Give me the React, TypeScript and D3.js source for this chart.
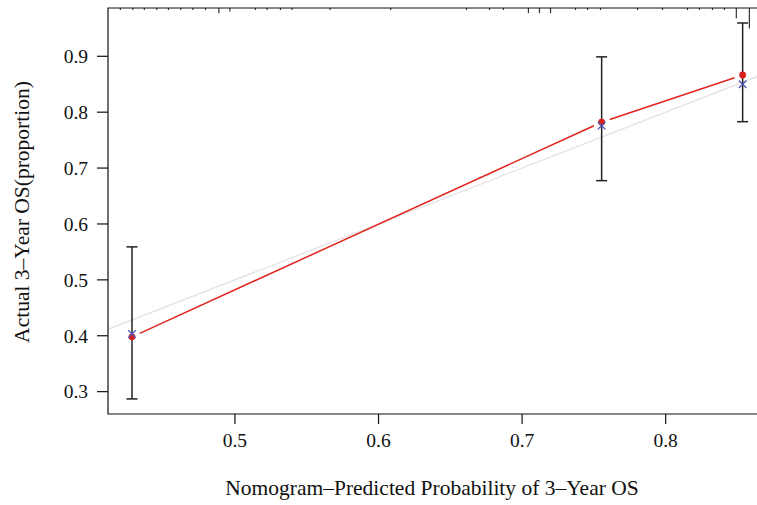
import React from "react";
import * as d3 from "d3";

// Calibration groups
const predicted = [0.4283, 0.7554, 0.8536];
const observed = [0.398, 0.782, 0.8665];
const corrected = [0.403, 0.776, 0.850];
const lowerCI = [0.287, 0.6775, 0.783];
const upperCI = [0.559, 0.899, 0.9596];

// Rug of predicted probabilities along the top (value, relative count)
const rugValues = [
  0.4202, 0.4289, 0.4369, 0.4456, 0.4537, 0.4623, 0.4707, 0.4795, 0.4888, 0.4965,
  0.5143, 0.5224, 0.5317, 0.5398, 0.5663, 0.6085, 0.6613, 0.6773, 0.6870, 0.7044,
  0.7121, 0.7198, 0.7372, 0.7456, 0.7546, 0.7804, 0.7978, 0.8152, 0.8235, 0.8326,
  0.8409, 0.8492, 0.8583,
];
const rugCounts = [
  1, 1, 1, 1, 1, 1, 1, 1, 3, 2,
  1, 1, 1, 1, 1, 1, 1, 1, 1, 3,
  3, 3, 1, 1, 1, 1, 1, 1, 1, 1,
  1, 6, 12,
];

const xTicks = [0.5, 0.6, 0.7, 0.8];
const yTicks = [0.3, 0.4, 0.5, 0.6, 0.7, 0.8, 0.9];

const xTitle = "Nomogram\u2013Predicted Probability of 3\u2013Year OS";
const yTitle = "Actual 3\u2013Year OS(proportion)";

const W = 757;
const H = 505;
const left = 108;
const top = 8;
const bottom = 414;

const FONT = "'Liberation Serif', 'DejaVu Serif', serif";

export default function App() {
  const x = d3.scaleLinear().domain([0.4116, 0.8636]).range([left, 757]);
  const y = d3.scaleLinear().domain([0.26, 0.9864]).range([bottom, top]);
  const rugH = d3.scaleLinear().domain([0, 12]).range([0, 20.5]);

  const right = x(0.875);

  // red line segments with gaps near points (type "b")
  const gap = 8.5;
  const segs: [number, number, number, number][] = [];
  for (let i = 0; i < predicted.length - 1; i++) {
    const x1 = x(predicted[i]), y1 = y(observed[i]);
    const x2 = x(predicted[i + 1]), y2 = y(observed[i + 1]);
    const len = Math.hypot(x2 - x1, y2 - y1);
    const ux = (x2 - x1) / len, uy = (y2 - y1) / len;
    segs.push([x1 + ux * gap, y1 + uy * gap, x2 - ux * gap, y2 - uy * gap]);
  }

  const d0 = 0.4116, d1 = 0.875;

  return (
    <svg
      width={W}
      height={H}
      style={{ position: "absolute", left: 0, top: 0, background: "#fff" }}
      fontFamily={FONT}
    >
      <rect x={0} y={0} width={W} height={H} fill="#fff" />
      {/* ideal line */}
      <line
        x1={x(d0)}
        y1={y(d0)}
        x2={x(d1)}
        y2={y(d1)}
        stroke="#e6e6e6"
        strokeWidth={1.5}
      />
      {/* red calibration line */}
      {segs.map((s, i) => (
        <line key={i} x1={s[0]} y1={s[1]} x2={s[2]} y2={s[3]} stroke="#e0261d" strokeWidth={1.5} />
      ))}
      {/* error bars */}
      {predicted.map((p, i) => (
        <g key={i} stroke="#222" strokeWidth={1.5}>
          <line x1={x(p)} x2={x(p)} y1={y(lowerCI[i])} y2={y(upperCI[i])} />
          <line x1={x(p) - 5.5} x2={x(p) + 5.5} y1={y(lowerCI[i])} y2={y(lowerCI[i])} />
          <line x1={x(p) - 5.5} x2={x(p) + 5.5} y1={y(upperCI[i])} y2={y(upperCI[i])} />
        </g>
      ))}
      {/* observed points */}
      {predicted.map((p, i) => (
        <circle key={i} cx={x(p)} cy={y(observed[i])} r={3.4} fill="#d81f1a" />
      ))}
      {/* bias-corrected X markers */}
      {predicted.map((p, i) => {
        const cx = x(p), cy = y(corrected[i]);
        const s = 3.8;
        return (
          <g key={i} stroke="#4f55b8" strokeWidth={1.3}>
            <line x1={cx - s} y1={cy - s} x2={cx + s} y2={cy + s} />
            <line x1={cx - s} y1={cy + s} x2={cx + s} y2={cy - s} />
          </g>
        );
      })}
      {/* rug */}
      {rugValues.map((v, i) => (
        <line
          key={i}
          x1={x(v)}
          x2={x(v)}
          y1={top}
          y2={top + Math.max(2, rugH(rugCounts[i]))}
          stroke="#333"
          strokeWidth={1.2}
        />
      ))}
      {/* plot box */}
      <path
        d={`M${right},${top}H${left}V${bottom}H${right}`}
        fill="none"
        stroke="#111"
        strokeWidth={1.2}
      />
      {/* x axis ticks */}
      {xTicks.map((t) => (
        <g key={t}>
          <line x1={x(t)} x2={x(t)} y1={bottom} y2={bottom + 10} stroke="#111" strokeWidth={1.2} />
          <text x={x(t)} y={bottom + 33} textAnchor="middle" fontSize={19.5} fill="#111">
            {d3.format(".1f")(t)}
          </text>
        </g>
      ))}
      {/* y axis ticks */}
      {yTicks.map((t) => (
        <g key={t}>
          <line x1={left - 11} x2={left} y1={y(t)} y2={y(t)} stroke="#111" strokeWidth={1.2} />
          <text x={88} y={y(t)} dy="0.35em" textAnchor="end" fontSize={19.5} fill="#111">
            {d3.format(".1f")(t)}
          </text>
        </g>
      ))}
      <text x={432} y={495} textAnchor="middle" fontSize={21.5} fill="#111">
        {xTitle}
      </text>
      <text
        transform={`translate(29,212) rotate(-90)`}
        textAnchor="middle"
        fontSize={21.5}
        fill="#111"
      >
        {yTitle}
      </text>
    </svg>
  );
}
